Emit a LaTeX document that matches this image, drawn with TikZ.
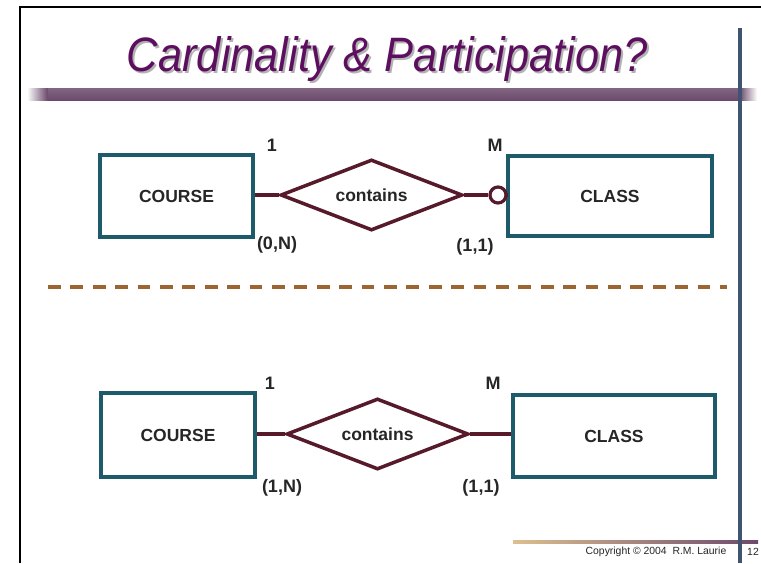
\documentclass[tikz,border=0pt]{standalone}
\usepackage{fontspec}
\usepackage{graphicx}
\setmainfont{Liberation Sans}
\newfontfamily\titlefont{Liberation Sans}
\newfontfamily\erfont{Liberation Sans}
\usetikzlibrary{shapes.geometric}

\definecolor{titlepurple}{HTML}{5C0F5E}
\definecolor{barpurple}{HTML}{6C4A6C}
\definecolor{slatebar}{HTML}{3E5470}
\definecolor{boxteal}{HTML}{1E5B6A}
\definecolor{relmaroon}{HTML}{561A2A}
\definecolor{dashbrown}{HTML}{9C6632}
\definecolor{tanline}{HTML}{DDBF90}
\definecolor{inkgray}{HTML}{262626}

\begin{document}
\begin{tikzpicture}[x=1pt,y=-1pt,
  entity/.style={draw=boxteal, line width=3.2pt, inner sep=0pt,
    font=\erfont\bfseries\fontsize{17.5}{21}\selectfont, text=inkgray},
  relation/.style={draw=relmaroon, line width=3.5pt, shape=diamond, aspect=2.6,
    inner sep=0pt, minimum width=182pt, minimum height=71pt,
    font=\erfont\bfseries\fontsize{17.5}{21}\selectfont, text=inkgray},
  link/.style={draw=relmaroon, line width=3.5pt},
  optcircle/.style={circle, draw=relmaroon, line width=3.2pt, fill=white,
    minimum size=16pt, inner sep=0pt},
  card/.style={font=\erfont\bfseries\fontsize{18}{21}\selectfont, text=inkgray, inner sep=0pt},
  titletext/.style={font=\titlefont\itshape\fontsize{45}{54}\selectfont, inner sep=0pt, anchor=base}
]
% page area
\useasboundingbox (0,0) rectangle (761,563);
\fill[white] (0,0) rectangle (761,563);

% slide frame
\draw[black, line width=2pt] (20,563) -- (20,7) -- (761,7);

% title with drop shadow
\node[titletext, text=black!30] (titleshadow) at (389.5,73)
  {\resizebox{521pt}{35pt}{Cardinality \& Participation?}};
\node[titletext, text=titlepurple] (title) at (387.5,71)
  {\resizebox{521pt}{35pt}{Cardinality \& Participation?}};

% title rule with faded ends
\shade[top color=barpurple!85, bottom color=barpurple] (47,88) rectangle (740,100);
\shade[left color=white, right color=barpurple] (27,88) rectangle (47.5,100);
\shade[left color=barpurple, right color=white] (739.5,88) rectangle (757,100);

% footer rule
\shade[left color=tanline, right color=barpurple] (513,540.5) rectangle (758,543.5);

% right-hand margin bar
\fill[slatebar] (738,28) rectangle (742,563);

% ---------- upper diagram: optional participation ----------
\node[entity, minimum width=153pt, minimum height=82pt] (course1) at (176.5,196) {COURSE};
\node[entity, minimum width=204pt, minimum height=80pt] (class1) at (610,196) {CLASS};
\node[relation] (rel1) at (371.5,195) {contains};
\node[optcircle] (opt1) at (498,195) {};
\draw[link] (course1.east |- rel1.west) -- (rel1.west);
\draw[link] (rel1.east) -- (opt1.west);
\draw[link] (opt1.east) -- (class1.west |- opt1.east);

\node[card] (c1one) at (272,145) {1};
\node[card] (c1many) at (495,145) {M};
\node[card] (c1left) at (277,245) {(0,N)};
\node[card] (c1right) at (475,247) {(1,1)};

% separator
\coordinate (sepL) at (48,287);
\coordinate (sepR) at (727,287);
\draw[dashbrown, line width=3.5pt, dash pattern=on 12.7pt off 9.7pt] (sepL) -- (sepR);

% ---------- lower diagram: mandatory participation ----------
\node[entity, minimum width=154pt, minimum height=84pt] (course2) at (178,435) {COURSE};
\node[entity, minimum width=202pt, minimum height=82pt] (class2) at (614,436) {CLASS};
\node[relation] (rel2) at (377.5,434) {contains};
\draw[link] (course2.east |- rel2.west) -- (rel2.west);
\draw[link] (rel2.east) -- (class2.west |- rel2.east);

\node[card] (c2one) at (270,383) {1};
\node[card] (c2many) at (493,383) {M};
\node[card] (c2left) at (282,488) {(1,N)};
\node[card] (c2right) at (481,488) {(1,1)};

% footer text
\node[font=\fontsize{10.4}{12}\selectfont, text=inkgray, inner sep=0pt] (copyright) at (656,552)
  {Copyright \textcopyright{} 2004\ \ R.M. Laurie};
\node[font=\fontsize{10.4}{12}\selectfont, text=inkgray, inner sep=0pt] (pagenum) at (753,552) {12};
\end{tikzpicture}
\end{document}
